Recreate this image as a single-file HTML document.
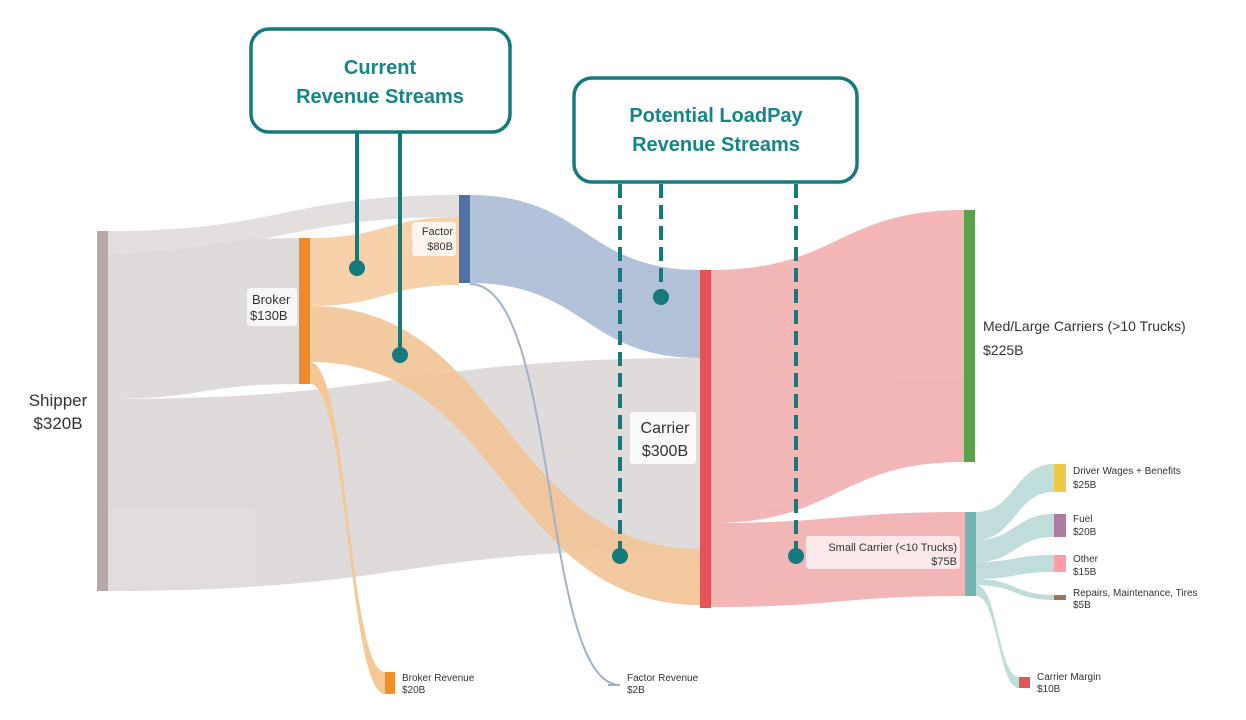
<!DOCTYPE html>
<html><head><meta charset="utf-8"><style>
html,body{margin:0;padding:0;background:#fff;}
svg{display:block;font-family:"Liberation Sans",Arial,sans-serif;}
</style></head><body>
<svg width="1246" height="720" viewBox="0 0 1246 720" xmlns="http://www.w3.org/2000/svg">
<g opacity="0.95">
<!-- gray flows -->
<path d="M108 231 C283 231 283 195 459 195 L459 217 C283 217 283 253 108 253Z" fill="#e2dedd"/>
<path d="M108 253 C203 253 203 238 299 238 L299 384 C203 384 203 399 108 399Z" fill="#dedad9"/>
<path d="M108 399 C404 399 404 358 700 358 L700 549 C404 549 404 591 108 591Z" fill="#dedad9"/>
<!-- orange flows -->
<path d="M310 238 C385 238 385 217 459 217 L459 285 C385 285 385 306 310 306Z" fill="#f7cfa6"/>
<path d="M310 306 C505 306 505 549 700 549 L700 605 C505 605 505 362 310 362Z" fill="#f2c08f" opacity="0.9"/>
<path d="M310 362 C348 362 348 672 385 672 L385 694 C348 694 348 384 310 384Z" fill="#f5c590"/>
<!-- blue -->
<path d="M470 195 C585 195 585 270 700 270 L700 358 C585 358 585 283 470 283Z" fill="#adbfd8"/>
<path d="M470 284 C560 284 540 685 620 685" fill="none" stroke="#9aaec8" stroke-width="2"/>
<!-- pink -->
<path d="M711 270 C838 270 838 210 964 210 L964 462 C838 462 838 523 711 523Z" fill="#f2b3b3"/>
<path d="M711 523 C838 523 838 512 965 512 L965 596 C838 596 838 607 711 607Z" fill="#f2b3b3"/>
<!-- teal -->
<path d="M976 512 C1015 512 1015 464 1054 464 L1054 492 C1015 492 1015 540 976 540Z" fill="#bddcda"/>
<path d="M976 540 C1015 540 1015 514 1054 514 L1054 537 C1015 537 1015 562 976 562Z" fill="#bddcda"/>
<path d="M976 562 C1015 562 1015 555 1054 555 L1054 572 C1015 572 1015 579 976 579Z" fill="#bddcda"/>
<path d="M976 579 C1015 579 1015 595 1054 595 L1054 600 C1015 600 1015 585 976 585Z" fill="#bddcda"/>
<path d="M976 585 C998 585 998 677 1019 677 L1019 688 C998 688 998 596 976 596Z" fill="#bddcda"/>
</g>
<!-- nodes -->
<rect x="97" y="231" width="11" height="360" fill="#b5aaa8"/>
<rect x="299" y="238" width="11" height="146" fill="#f0892a"/>
<rect x="459" y="195" width="11" height="88" fill="#4e72a6"/>
<rect x="700" y="270" width="11" height="338" fill="#e35457"/>
<rect x="964" y="210" width="11" height="252" fill="#5aa14c"/>
<rect x="965" y="512" width="11" height="84" fill="#70b5ae"/>
<rect x="1054" y="464" width="12" height="28" fill="#edc948"/>
<rect x="1054" y="514" width="12" height="23" fill="#b07aa1"/>
<rect x="1054" y="555" width="12" height="17" fill="#ff9da7"/>
<rect x="1054" y="595" width="12" height="5" fill="#9c755f"/>
<rect x="1019" y="677" width="11" height="11" fill="#e15759"/>
<rect x="385" y="672" width="10" height="22" fill="#f28e2b"/>
<line x1="608" y1="685" x2="620" y2="685" stroke="#9aaec8" stroke-width="2"/>
<!-- labels -->
<g fill="#333">
<text x="58" y="406" font-size="17" text-anchor="middle">Shipper</text>
<text x="58" y="429" font-size="17" text-anchor="middle">$320B</text>
<rect x="247" y="288" width="50" height="38" fill="#fff" opacity="0.8" rx="3"/>
<text x="252" y="304" font-size="13">Broker</text>
<text x="250" y="320" font-size="13">$130B</text>
<rect x="412" y="222" width="44" height="34" fill="#fff" opacity="0.8" rx="3"/>
<text x="453" y="235" font-size="11" text-anchor="end">Factor</text>
<text x="453" y="250" font-size="11" text-anchor="end">$80B</text>
<rect x="630" y="412" width="66" height="52" fill="#fff" opacity="0.85" rx="3"/>
<text x="665" y="433" font-size="16" text-anchor="middle">Carrier</text>
<text x="665" y="456" font-size="16" text-anchor="middle">$300B</text>
<text x="983" y="331" font-size="14">Med/Large Carriers (&gt;10 Trucks)</text>
<text x="983" y="355" font-size="14">$225B</text>
<rect x="806" y="536" width="154" height="33" fill="#fff" opacity="0.7" rx="3"/>
<text x="957" y="551" font-size="11" text-anchor="end">Small Carrier (&lt;10 Trucks)</text>
<text x="957" y="565" font-size="11" text-anchor="end">$75B</text>
<text x="1073" y="474" font-size="10">Driver Wages + Benefits</text>
<text x="1073" y="488" font-size="10">$25B</text>
<text x="1073" y="522" font-size="10">Fuel</text>
<text x="1073" y="535" font-size="10">$20B</text>
<text x="1073" y="562" font-size="10">Other</text>
<text x="1073" y="575" font-size="10">$15B</text>
<text x="1073" y="596" font-size="10">Repairs, Maintenance, Tires</text>
<text x="1073" y="608" font-size="10">$5B</text>
<text x="1037" y="680" font-size="10">Carrier Margin</text>
<text x="1037" y="692" font-size="10">$10B</text>
<text x="402" y="681" font-size="10">Broker Revenue</text>
<text x="402" y="693" font-size="10">$20B</text>
<text x="627" y="681" font-size="10">Factor Revenue</text>
<text x="627" y="693" font-size="10">$2B</text>
</g>
<!-- callouts -->
<g stroke="#16797c" fill="none" stroke-width="4">
<line x1="357" y1="133" x2="357" y2="268"/>
<line x1="400" y1="133" x2="400" y2="355"/>
<g stroke-dasharray="14,7">
<line x1="620" y1="184" x2="620" y2="552"/>
<line x1="661" y1="184" x2="661" y2="294"/>
<line x1="796" y1="184" x2="796" y2="552"/>
</g>
</g>
<g fill="#16797c">
<circle cx="357" cy="268" r="8"/>
<circle cx="400" cy="355" r="8"/>
<circle cx="620" cy="556" r="8"/>
<circle cx="661" cy="297" r="8"/>
<circle cx="796" cy="556" r="8"/>
</g>
<rect x="251" y="29" width="259" height="103" rx="18" fill="#fff" stroke="#16797c" stroke-width="3.5"/>
<rect x="574" y="78" width="283" height="104" rx="18" fill="#fff" stroke="#16797c" stroke-width="3.5"/>
<g fill="#16858a" font-size="20" font-weight="bold" text-anchor="middle">
<text x="380" y="74">Current</text>
<text x="380" y="103">Revenue Streams</text>
<text x="716" y="122">Potential LoadPay</text>
<text x="716" y="151">Revenue Streams</text>
</g>
</svg>
</body></html>
